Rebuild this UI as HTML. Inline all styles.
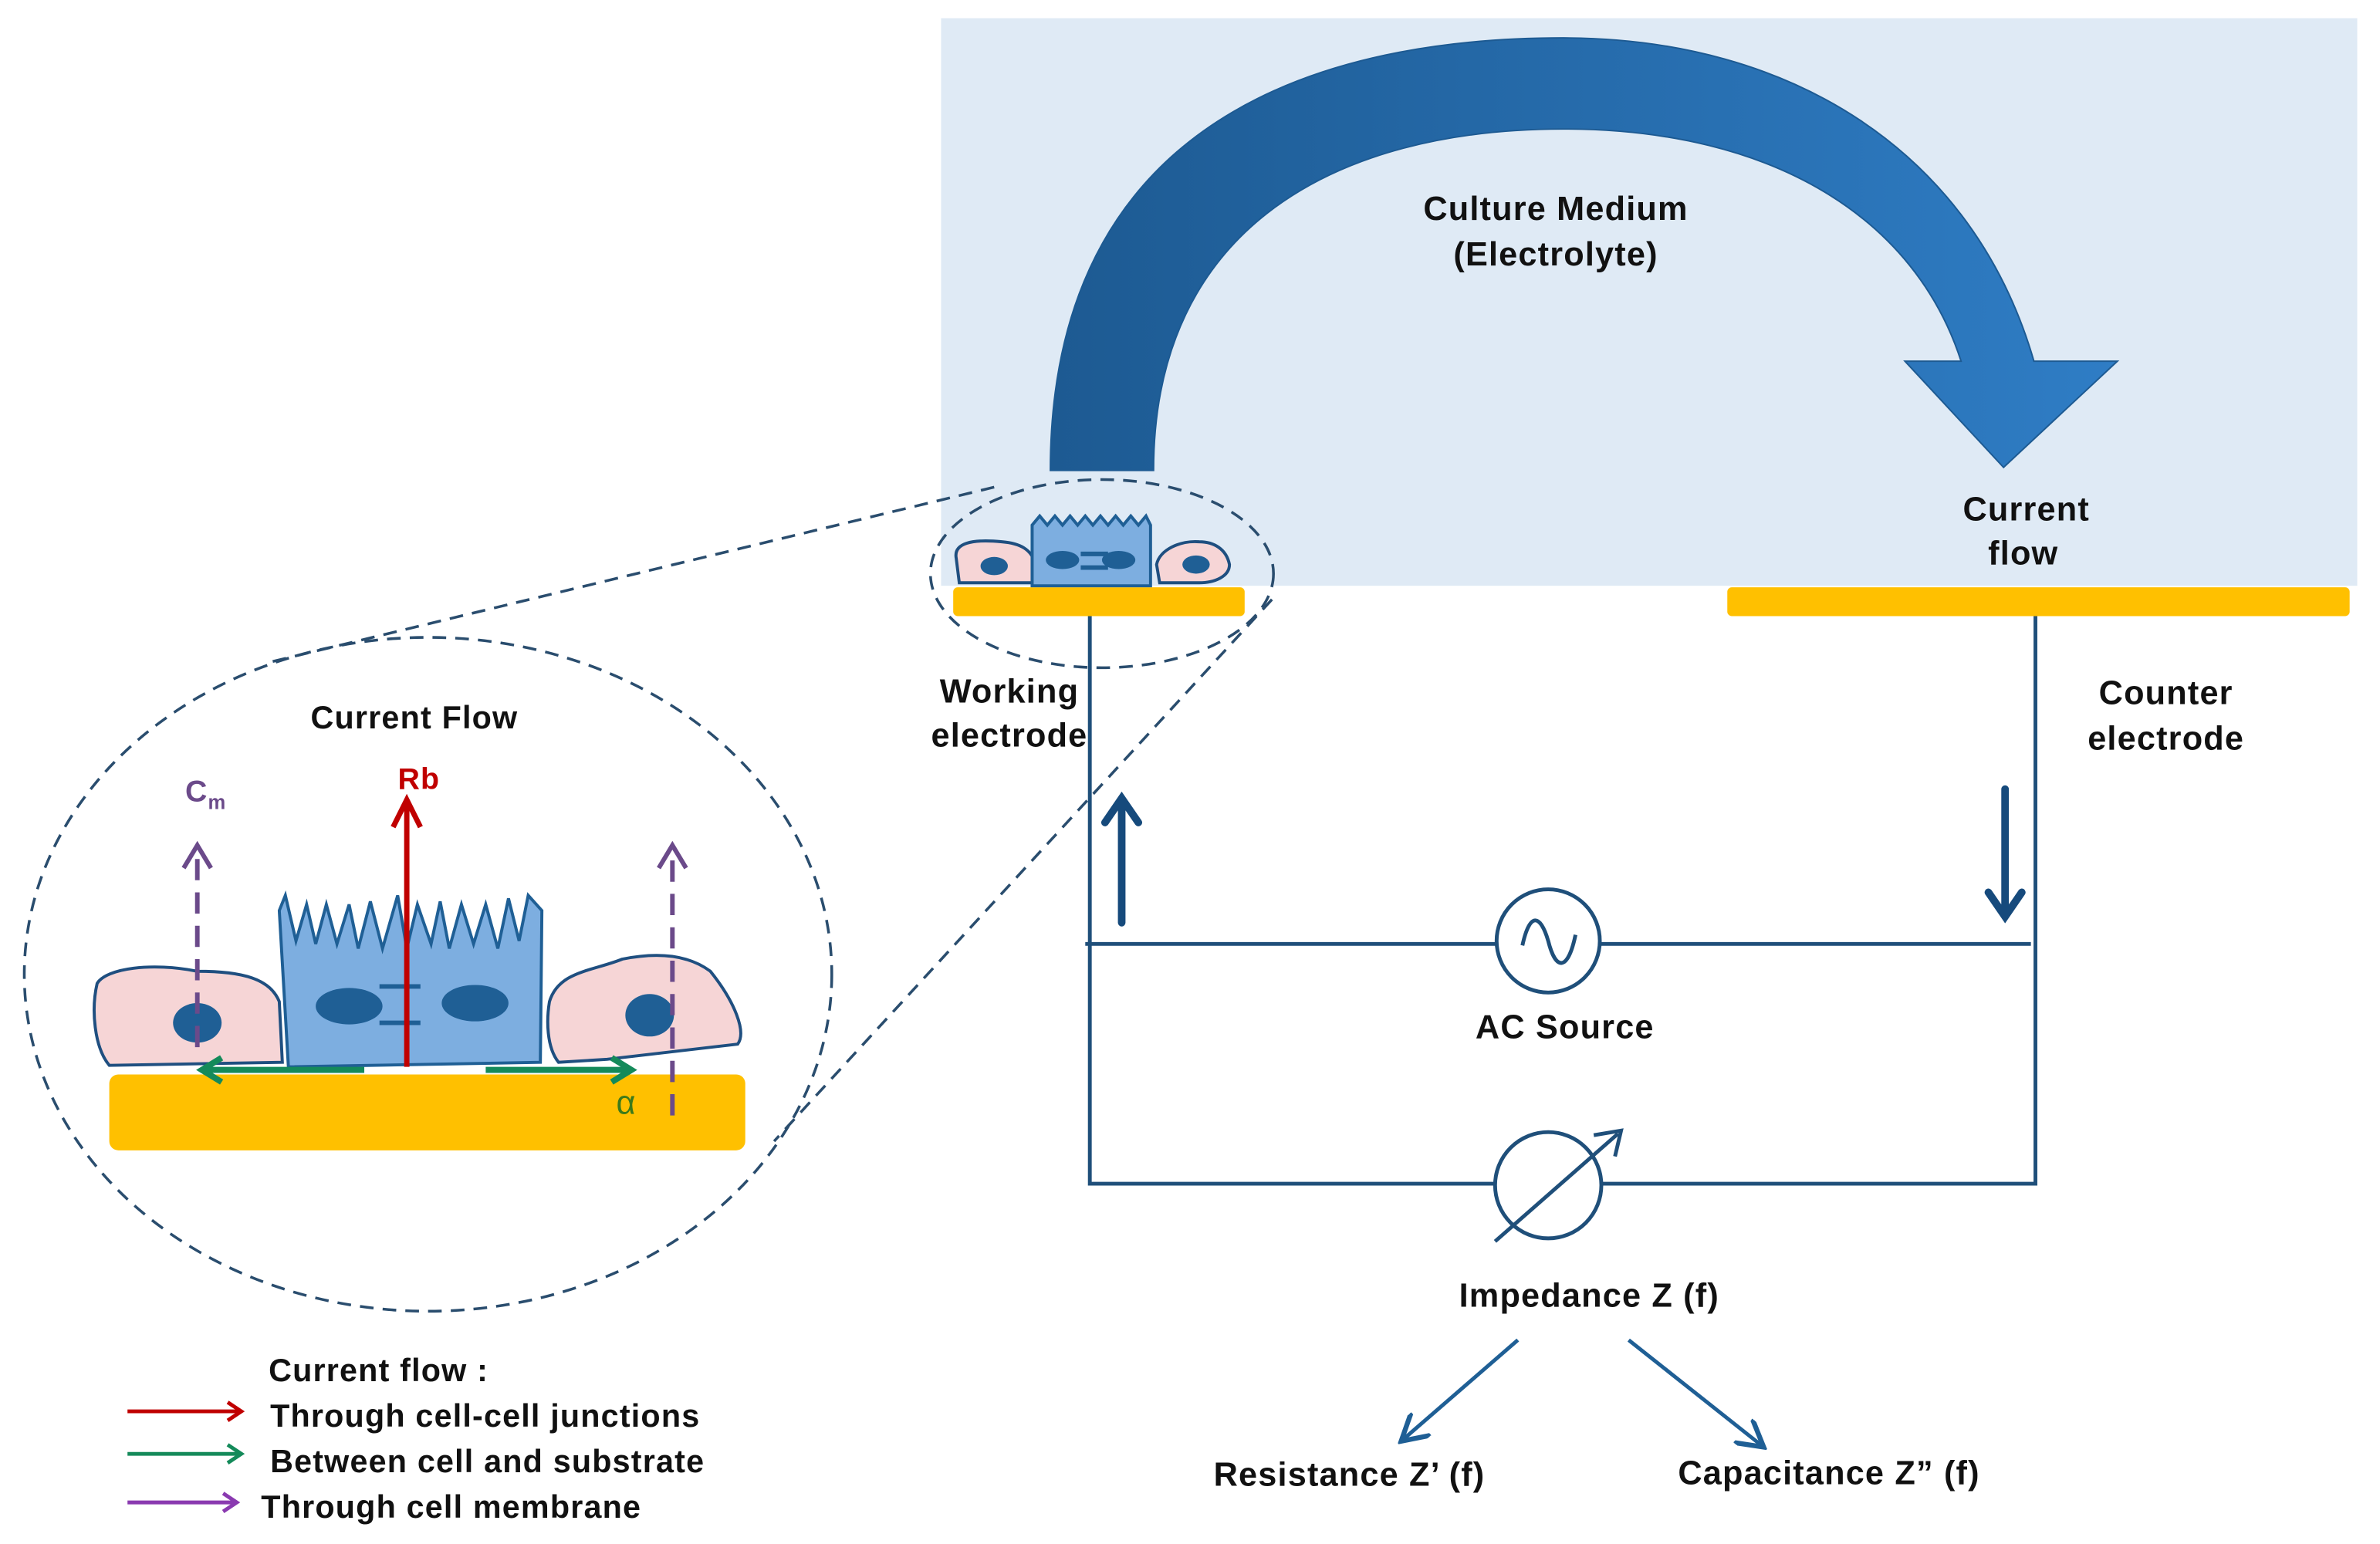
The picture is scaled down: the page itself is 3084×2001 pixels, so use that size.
<!DOCTYPE html>
<html><head><meta charset="utf-8"><style>
html,body{margin:0;padding:0;background:#fff;}
svg{display:block;}
text{font-family:"Liberation Sans",Arial,sans-serif;font-weight:bold;fill:#111;letter-spacing:0.6px;}
</style></head><body>
<svg width="3084" height="2001" viewBox="0 0 1568 1017.4" preserveAspectRatio="none" xmlns="http://www.w3.org/2000/svg">
<defs>
<linearGradient id="g" x1="0" y1="0" x2="1" y2="0">
<stop offset="0" stop-color="#1d5a92"/><stop offset="1" stop-color="#2f7dc5"/>
</linearGradient>
<marker id="mb" markerWidth="8" markerHeight="8" refX="6" refY="4" orient="auto" markerUnits="strokeWidth"><path d="M0,0 L7,4 L0,8" fill="none" stroke="#1f5f95" stroke-width="1.3"/></marker>
</defs>
<rect x="620" y="12" width="933" height="374" fill="#dfeaf5"/>
<path d="M692,310 C692,60 900,25 1030,25 C1180,25 1300,100 1340,238 L1395,238 L1320,308 L1255,238 L1292,238 C1262,145 1170,85 1030,85 C880,85 760,150 760,310 Z" fill="url(#g)" stroke="#1d5a92" stroke-width="1"/>
<text x="1025" y="145" font-size="22" text-anchor="middle">Culture Medium</text>
<text x="1025" y="175" font-size="22" text-anchor="middle">(Electrolyte)</text>
<text x="1335" y="343" font-size="22" text-anchor="middle">Current</text>
<text x="1333" y="372" font-size="22" text-anchor="middle">flow</text>
<rect x="628" y="387" width="192" height="19" rx="3" fill="#ffc000"/>
<rect x="1138" y="387" width="410" height="19" rx="3" fill="#ffc000"/>
<path d="M630,368 C628,358 640,355 660,357 C672,358 680,362 682,372 L682,384 L632,384 Z" fill="#f6d5d6" stroke="#1f4f80" stroke-width="2"/>
<ellipse cx="655" cy="373" rx="9" ry="6" fill="#1f5f95"/>
<path d="M680,346 L685,340 L690,346 L695,340 L700,346 L705,340 L710,346 L715,340 L720,346 L725,340 L730,346 L735,340 L740,346 L745,340 L750,346 L755,340 L758,346 L758,386 L680,386 Z" fill="#7daee0" stroke="#1f5f95" stroke-width="2"/>
<ellipse cx="700" cy="369" rx="11" ry="6" fill="#1f5f95"/><ellipse cx="737" cy="369" rx="11" ry="6" fill="#1f5f95"/>
<path d="M712,365 h18 M712,374 h18" stroke="#1f5f95" stroke-width="3"/>
<path d="M762,372 C764,362 778,356 790,357 C800,357 808,362 810,372 C810,380 800,384 790,384 L764,384 Z" fill="#f6d5d6" stroke="#1f4f80" stroke-width="2"/>
<ellipse cx="788" cy="372" rx="9" ry="6" fill="#1f5f95"/>
<g fill="none" stroke="#2a4d6e" stroke-width="1.8" stroke-dasharray="9,6">
<ellipse cx="726" cy="378" rx="113" ry="62"/>
<ellipse cx="282" cy="642" rx="266" ry="222"/>
<path d="M655,321 L175,437"/>
<path d="M838,395 L510,752"/>
</g>
<g stroke="#1f4f7a" stroke-width="2.5" fill="none">
<path d="M718,406 V780 H985 M1055,780 H1341 V406"/>
<path d="M715,622 H986 M1054,622 H1338"/>
<circle cx="1020" cy="620" r="34"/>
<path d="M1003,623 C1008,600 1015,603 1020,620 C1025,640 1033,640 1038,616"/>
<circle cx="1020" cy="781" r="35"/>
<path d="M985,818 L1066,747 M1050,748 L1068,745 L1064,762"/>
</g>
<g stroke="#164a7c" stroke-width="5" fill="none" stroke-linecap="round">
<path d="M739,608 V528 M728,542 L739,526 L750,542"/>
<path d="M1321,520 V602 M1310,588 L1321,604 L1332,588"/>
</g>
<text x="665" y="463" font-size="22" text-anchor="middle">Working</text>
<text x="665" y="492" font-size="22" text-anchor="middle">electrode</text>
<text x="1427" y="464" font-size="22" text-anchor="middle">Counter</text>
<text x="1427" y="494" font-size="22" text-anchor="middle">electrode</text>
<text x="1031" y="684" font-size="22" text-anchor="middle">AC Source</text>
<text x="1047" y="861" font-size="22" text-anchor="middle">Impedance Z (f)</text>
<path d="M1000,883 L925,948" stroke="#1f5f95" stroke-width="2.5" marker-end="url(#mb)"/>
<path d="M1073,883 L1160,952" stroke="#1f5f95" stroke-width="2.5" marker-end="url(#mb)"/>
<text x="889" y="979" font-size="22" text-anchor="middle">Resistance  Z’ (f)</text>
<text x="1205" y="978" font-size="22" text-anchor="middle">Capacitance Z” (f)</text>
<text x="273" y="480" font-size="21" text-anchor="middle">Current Flow</text>
<rect x="72" y="708" width="419" height="50" rx="6" fill="#ffc000"/>
<path d="M64,648 C70,638 100,634 130,640 C160,640 178,645 184,660 L186,700 L72,702 C62,690 60,665 64,648 Z" fill="#f6d5d6" stroke="#1f4f80" stroke-width="2"/>
<path d="M184,600 L188,590 L195,620 L202,596 L208,622 L215,596 L222,622 L230,596 L236,625 L244,594 L252,625 L262,590 L268,625 L275,596 L284,622 L290,594 L296,625 L304,596 L312,622 L320,596 L328,625 L335,592 L342,620 L348,590 L357,600 L356,700 L190,703 Z" fill="#7daee0" stroke="#1f5f95" stroke-width="2"/>
<path d="M362,660 C368,640 390,640 410,632 C430,628 452,628 468,640 C484,660 492,680 486,688 L400,698 L368,700 C360,690 360,672 362,660 Z" fill="#f6d5d6" stroke="#1f4f80" stroke-width="2"/>
<ellipse cx="130" cy="674" rx="16" ry="13" fill="#1f5f95"/>
<ellipse cx="230" cy="663" rx="22" ry="12" fill="#1f5f95"/>
<ellipse cx="313" cy="661" rx="22" ry="12" fill="#1f5f95"/>
<ellipse cx="428" cy="669" rx="16" ry="14" fill="#1f5f95"/>
<path d="M250,650 h27 M250,674 h27" stroke="#1f5f95" stroke-width="3"/>
<g stroke="#6b4a8a" stroke-width="3" fill="none" stroke-dasharray="14,8">
<path d="M130,690 V560"/><path d="M443,735 V562"/>
</g>
<path d="M121,572 L130,557 L139,572 M434,572 L443,557 L452,572" stroke="#6b4a8a" stroke-width="3" fill="none"/>
<path d="M268,703 V530 M259,545 L268,527 L277,545" stroke="#c00000" stroke-width="3.5" fill="none"/>
<text x="276" y="520" font-size="20" style="fill:#c00000" text-anchor="middle">Rb</text>
<text x="122" y="528" font-size="20" style="fill:#6b4a8a">C<tspan font-size="13" dy="5">m</tspan></text>
<path d="M240,705 H133 M146,697 L133,705 L146,713 M320,705 H416 M403,697 L416,705 L403,713" stroke="#148a5a" stroke-width="4" fill="none"/>
<text x="406" y="734" font-size="22" style="fill:#3c7a1a;font-weight:normal">α</text>
<text x="177" y="910" font-size="21">Current  flow :</text>
<g stroke-width="2.5" fill="none">
<path d="M84,930 H158 M150,924 L159,930 L150,936" stroke="#c00000"/>
<path d="M84,958 H158 M150,952 L159,958 L150,964" stroke="#148a5a"/>
<path d="M84,990 H155 M147,984 L156,990 L147,996" stroke="#8a3ab0"/>
</g>
<text x="178" y="940" font-size="21">Through cell-cell junctions</text>
<text x="178" y="970" font-size="21">Between cell and substrate</text>
<text x="172" y="1000" font-size="21">Through cell  membrane</text>
</svg>
</body></html>
